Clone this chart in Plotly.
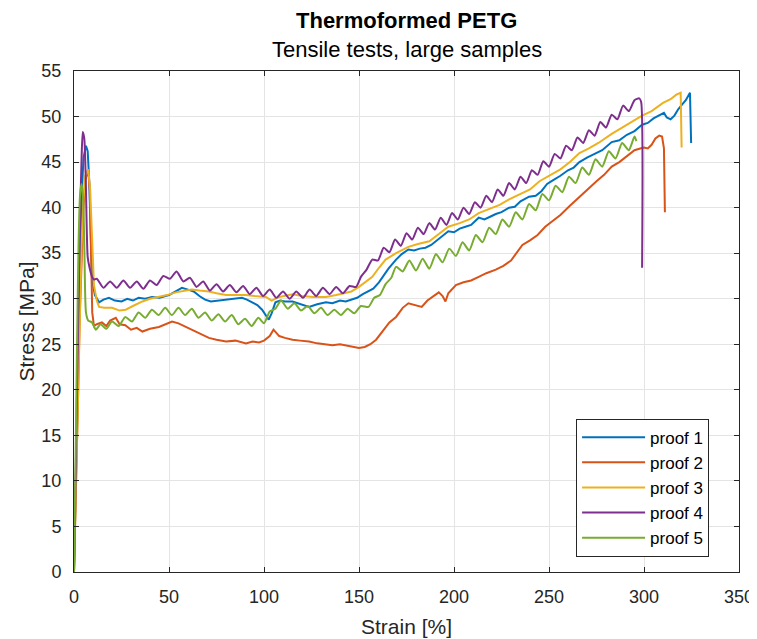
import plotly.graph_objects as go

# ---- data ----
series_names = ["proof 1", "proof 2", "proof 3", "proof 4", "proof 5"]

strain_p1 = [0, 1, 2, 3, 4, 5, 6.3, 7.2, 8, 8.8,
             9.6, 11, 13.2, 15.5, 18.4, 21.5, 25, 28, 31, 34,
             37.5, 41, 45, 50, 53.5, 56.8, 60, 63, 66, 69,
             72, 76, 80, 84, 88.4, 91, 93.7, 96.5, 99, 101,
             102.5, 104, 106, 108.5, 111, 115, 119, 123.7, 128, 132.6,
             136, 140, 143, 146, 149, 152, 155, 157.5, 160.5, 163,
             165.5, 169.5, 172.5, 176, 179, 182, 185, 188, 192, 197,
             200, 203, 206, 209, 213, 216, 219, 222, 225, 229,
             232, 235, 239.5, 243, 246, 249, 252, 256, 260, 263,
             266, 270, 274, 278, 283, 287, 291, 295, 299, 302,
             305, 308, 310.5, 312, 314, 316, 318, 320, 322, 324.2,
             324.8]
stress_p1 = [0, 10, 22, 33, 41, 45.5, 46.8, 46.2, 43, 37,
             32, 30.4, 29.6, 29.9, 30.1, 29.8, 29.7, 30.0, 29.8, 30.1,
             30.0, 30.2, 30.1, 30.4, 30.8, 31.2, 31.0, 30.8, 30.3, 29.9,
             29.7, 29.8, 29.9, 30.0, 30.1, 29.9, 29.6, 29.3, 28.8, 28.2,
             27.7, 28.4, 29.6, 29.8, 29.7, 29.7, 29.4, 29.1, 29.4, 29.6,
             29.5, 29.8, 29.7, 29.9, 30.1, 30.5, 30.8, 31.1, 31.8, 32.6,
             33.3, 34.3, 34.9, 35.4, 35.3, 35.5, 35.6, 35.9, 36.6, 37.4,
             37.3, 37.7, 37.9, 38.1, 38.9, 38.7, 39.0, 39.3, 39.5, 40.0,
             40.1, 40.7, 41.2, 41.3, 41.8, 42.6, 43.0, 43.5, 44.1, 44.4,
             45.0, 45.5, 45.9, 46.3, 47.2, 47.4, 48.0, 48.4, 49.1, 49.3,
             49.8, 50.1, 50.4, 49.9, 49.7, 50.1, 50.8, 51.3, 51.8, 52.6,
             47.1]

strain_p2 = [0, 1, 2, 3, 4, 5, 6, 7.4, 8.3, 9,
             9.6, 10.5, 12, 14.7, 17, 19, 22, 24, 27, 30,
             33, 36, 40, 44.7, 48, 51.6, 55, 58, 62, 66,
             71, 75, 80, 85, 90.5, 94, 97.4, 100, 103, 105,
             106.5, 108, 111, 115, 119, 123.7, 128, 132, 136, 140,
             145, 150, 153, 156, 159, 162, 166, 169.5, 173, 176,
             180, 183, 186, 189, 192, 194, 195.5, 197, 201, 205,
             209, 213, 217, 222, 226, 230, 233, 236, 240, 244,
             248, 252, 256, 261, 266, 270, 275, 279, 283, 287,
             291, 295, 298, 300, 302, 304, 306, 308, 309.5, 310.5,
             311]
stress_p2 = [0, 8, 18, 28, 35, 40, 43, 44.2, 42, 35,
             28.5, 27, 27.2, 27.4, 27.0, 27.6, 27.9, 27.2, 27.1, 26.6,
             26.8, 26.4, 26.7, 26.9, 27.2, 27.5, 27.3, 27.0, 26.6, 26.2,
             25.7, 25.5, 25.3, 25.4, 25.1, 25.3, 25.2, 25.4, 25.9, 26.6,
             26.3, 25.9, 25.7, 25.5, 25.4, 25.3, 25.1, 25.0, 24.9, 25.0,
             24.8, 24.6, 24.7, 25.0, 25.5, 26.3, 27.4, 28.0, 29.0, 29.5,
             29.3, 29.1, 29.8, 30.3, 30.7, 30.3, 29.7, 30.6, 31.5, 31.8,
             32.0, 32.4, 32.8, 33.2, 33.6, 34.2, 35.0, 35.9, 36.4, 37.0,
             37.9, 38.6, 39.2, 40.2, 41.2, 41.9, 42.9, 43.6, 44.5, 45.0,
             45.6, 46.3, 46.5, 46.6, 46.5, 46.9, 47.6, 47.9, 47.8, 46.5,
             39.5]

strain_p3 = [0, 1.5, 3, 4, 5, 6, 7.5, 8.5, 9.5, 10.5,
             12, 13.2, 16, 20, 24, 27.2, 31, 36, 40, 44.7,
             49, 53.5, 58, 62, 66, 71, 75, 80, 85, 90.5,
             95, 101, 104, 108, 115, 120, 126, 132.6, 138, 143,
             146, 150, 155, 157, 160.5, 164, 169.5, 173, 176, 181,
             187, 192, 197, 203, 208, 213, 218, 224, 229, 235,
             240, 245, 250, 256, 261, 266, 271, 276, 283, 288,
             294, 299, 304, 310, 314, 317, 319.3, 319.8]
stress_p3 = [0, 12, 27, 36, 41, 43.5, 44.2, 42, 36, 31.5,
             29.8, 29.1, 29.0, 29.0, 28.7, 28.8, 29.2, 29.7, 30.0, 30.2,
             30.4, 30.7, 30.9, 31.0, 30.9, 30.8, 30.6, 30.4, 30.4, 30.4,
             30.3, 30.2, 29.8, 30.2, 30.5, 30.3, 30.2, 30.2, 30.4, 30.6,
             30.8, 31.3, 32.1, 32.4, 33.4, 34.3, 35.0, 35.4, 35.7, 36.0,
             36.3, 37.1, 37.9, 38.3, 38.7, 39.4, 39.8, 40.3, 40.9, 41.5,
             42.0, 42.9, 43.5, 44.2, 45.0, 46.0, 46.5, 47.1, 48.1, 48.7,
             49.5, 50.1, 50.6, 51.5, 51.9, 52.4, 52.6, 46.6]

strain_p4 = [0, 1, 2, 3, 4, 4.6, 5.4, 6.2, 7.2, 8.2,
             9.5, 10.5, 12, 15.5, 19, 22.5, 26, 29.5, 33, 36.5,
             40, 43.5, 47, 50.5, 54, 57.5, 61, 64.5, 68, 71.5,
             75, 78.5, 82, 85.5, 89, 92.5, 96, 99.5, 103, 106.5,
             110, 113.5, 117, 120.5, 124, 127.5, 131, 134.5, 138, 141.5,
             145, 148.5, 151, 154, 157, 160, 163, 166, 169, 172,
             175, 178, 181, 184, 187, 190, 193, 196, 199, 202,
             205, 208, 211, 214, 217, 220, 223, 226, 229, 232,
             235, 238, 241, 244, 247, 250, 253, 256, 259, 262,
             265, 268, 271, 274, 277, 280, 283, 286, 289, 292,
             295, 297.5, 298.5, 299]
stress_p4 = [0, 12, 25, 37, 45.5, 48.3, 47.6, 43, 34.6, 33.4,
             32.4, 32.1, 32.2, 31.2, 31.9, 31.2, 32.0, 31.2, 31.9, 31.1,
             32.0, 31.5, 32.5, 32.2, 33.0, 31.9, 32.3, 31.3, 31.9, 30.9,
             31.6, 30.8, 31.5, 30.7, 31.4, 30.5, 31.2, 30.3, 31.0, 30.1,
             30.8, 30.0, 30.8, 30.1, 31.0, 30.3, 31.2, 30.5, 31.3, 30.6,
             31.4, 31.3, 32.4, 33.2, 34.3, 34.2, 35.6, 35.1, 36.5, 35.8,
             37.2, 36.5, 37.8, 37.1, 38.3, 37.6, 38.9, 38.1, 39.4, 38.7,
             40.0, 39.3, 40.6, 40.0, 41.3, 40.6, 42.0, 41.3, 42.7, 42.0,
             43.4, 42.7, 44.1, 43.6, 45.1, 44.5, 45.9, 45.4, 46.8, 46.3,
             47.7, 47.1, 48.5, 47.9, 49.4, 48.8, 50.2, 49.7, 51.2, 50.6,
             51.8, 52.0, 51.6, 33.4]

strain_p5 = [0, 0.8, 1.6, 2.4, 3.2, 4, 4.8, 5.5, 6.3, 7.5,
             9.5, 11.5, 14, 17, 20, 23.5, 27, 30.5, 34, 37.5,
             41, 44.5, 48, 51.5, 55, 58.5, 62, 65.5, 69, 72.5,
             76, 79.5, 83, 86.5, 90, 93.5, 97, 100, 103, 106,
             109, 112.5, 116, 119.5, 123, 126.5, 130, 133.5, 137, 140.5,
             144, 147.5, 151, 155, 158, 161, 164, 167, 169.5, 173,
             176.5, 180, 183.5, 187, 190.5, 194, 197.5, 201, 204.5, 208,
             211.5, 215, 218.5, 222, 225.5, 229, 232.5, 236, 239.5, 243,
             246.5, 250, 253.5, 257, 260.5, 264, 267.5, 271, 274.5, 278,
             281.5, 285, 288.5, 292, 295, 296]
stress_p5 = [0, 12, 25, 36, 41.5, 42.6, 41, 35, 28.5, 27.6,
             27.4, 26.6, 27.2, 26.7, 27.5, 27.0, 28.0, 27.5, 28.5, 27.9,
             28.8, 28.2, 29.0, 28.2, 29.0, 28.2, 28.9, 27.9, 28.5, 27.6,
             28.3, 27.5, 28.2, 27.2, 27.8, 27.0, 27.9, 27.3, 28.6, 28.9,
             29.8, 28.9, 29.5, 28.7, 29.2, 28.4, 29.0, 28.2, 28.8, 28.2,
             28.9, 28.4, 29.2, 29.1, 30.1, 30.4, 31.6, 32.3, 33.5, 33.0,
             34.2, 33.1, 34.4, 33.3, 34.9, 34.0, 35.5, 34.7, 36.2, 35.3,
             37.0, 36.2, 37.8, 37.1, 38.7, 37.9, 39.5, 38.7, 40.4, 39.7,
             41.5, 40.8, 42.4, 41.7, 43.4, 42.7, 44.4, 43.6, 45.3, 44.5,
             46.2, 45.4, 47.1, 46.3, 47.8, 47.3]

x_ticks = [0, 50, 100, 150, 200, 250, 300, 350]
y_ticks = [0, 5, 10, 15, 20, 25, 30, 35, 40, 45, 50, 55]

title_text = "Thermoformed PETG"
subtitle_text = "Tensile tests, large samples"
x_label = "Strain [%]"
y_label = "Stress [MPa]"

strains = [strain_p1, strain_p2, strain_p3, strain_p4, strain_p5]
stresses = [stress_p1, stress_p2, stress_p3, stress_p4, stress_p5]
for s, t in zip(strains, stresses):
    assert len(s) == len(t), (len(s), len(t))

colors = ["#0072BD", "#D95319", "#EDB120", "#7E2F8E", "#77AC30"]
shapes_ = ["linear", "linear", "linear", "spline", "spline"]

fig = go.Figure()
for name, s, t, c, sh in zip(series_names, strains, stresses, colors, shapes_):
    line = dict(color=c, width=2, shape=sh)
    if sh == "spline":
        line["smoothing"] = 0.6
    fig.add_trace(go.Scatter(x=s, y=t, mode="lines", name=name, line=line))

FONT = "Liberation Sans, Arial, Helvetica, sans-serif"
axis_common = dict(
    automargin=False,
    showgrid=True, gridcolor="#e4e4e4", gridwidth=1,
    showline=True, linecolor="#262626", linewidth=1, mirror="ticks",
    ticks="inside", ticklen=5, tickcolor="#262626", zeroline=False,
    tickfont=dict(size=18, color="#262626", family=FONT),
)

# The page body adds an 8px offset, so the figure is 8px smaller than the window.
fig.update_layout(
    template="none",
    width=749, height=631,
    margin=dict(l=66, r=18, t=63, b=67, autoexpand=False),
    paper_bgcolor="white", plot_bgcolor="white",
    font=dict(family=FONT, size=18, color="#262626"),
    xaxis=dict(range=[0, 350], tickvals=x_ticks,
               title=dict(text=x_label, font=dict(size=21, color="#262626"), standoff=13),
               ticklabelstandoff=8, **axis_common),
    yaxis=dict(range=[0, 55], tickvals=y_ticks,
               title=dict(text=y_label, font=dict(size=21, color="#262626"), standoff=1),
               ticklabelstandoff=8, **axis_common),
    legend=dict(x=0.755, y=0.306, xanchor="left", yanchor="top",
                bgcolor="white", bordercolor="#262626", borderwidth=1,
                font=dict(size=17, color="#000000"), itemwidth=63,
                tracegroupgap=0),
    showlegend=True,
    annotations=[
        dict(text="<b>" + title_text + "</b>", xref="paper", yref="paper",
             x=0.5, y=1, xanchor="center", yanchor="middle", yshift=51,
             showarrow=False, font=dict(size=22, color="#000000", family=FONT)),
        dict(text=subtitle_text, xref="paper", yref="paper",
             x=0.5, y=1, xanchor="center", yanchor="middle", yshift=22,
             showarrow=False, font=dict(size=22, color="#000000", family=FONT)),
    ],
)

fig.write_html("out.html")
